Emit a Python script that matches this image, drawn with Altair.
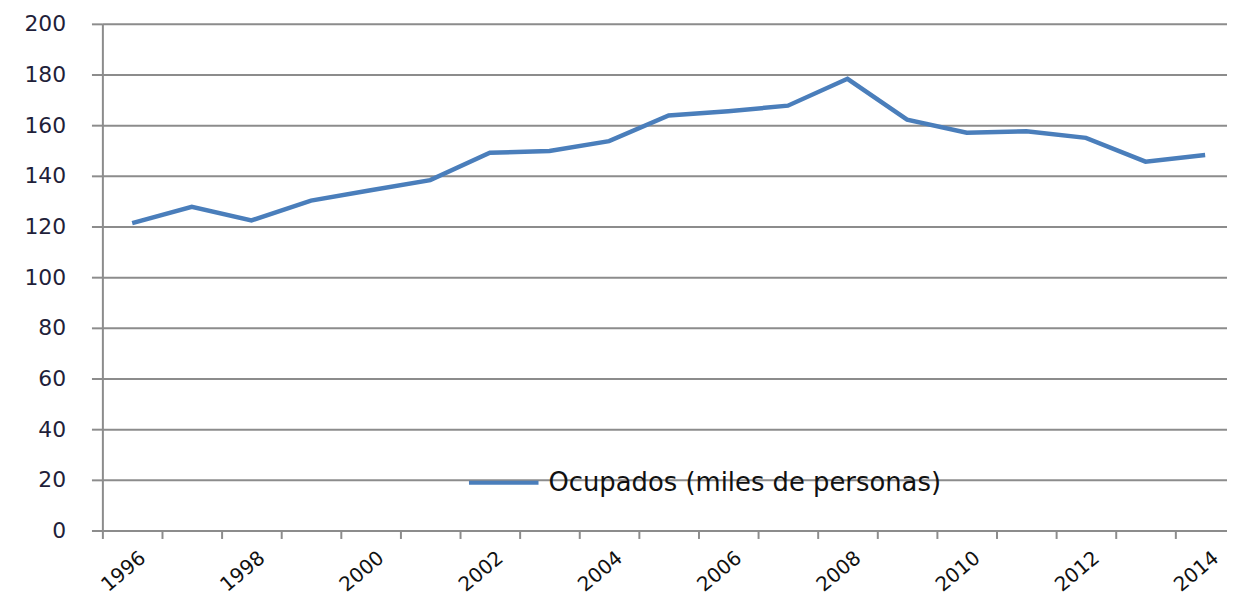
import altair as alt
import pandas as pd

years = ["1996", "1997", "1998", "1999", "2000", "2001", "2002", "2003", "2004", "2005",
         "2006", "2007", "2008", "2009", "2010", "2011", "2012", "2013", "2014"]
ocupados = [121.3, 127.8, 122.4, 130.2, 134.3, 138.3, 149.1, 149.8, 153.7, 163.8,
            165.5, 167.7, 178.3, 162.2, 157.0, 157.6, 155.0, 145.6, 148.2]
series_name = "Ocupados (miles de personas)"
y_ticks = [0, 20, 40, 60, 80, 100, 120, 140, 160, 180, 200]

df = pd.DataFrame({"year": years, "value": ocupados, "serie": [series_name] * len(years)})

grid_color = "#8C8C8C"
line_color = "#4A7EBB"

chart = alt.Chart(df).mark_line(strokeWidth=4.5).encode(
    x=alt.X(
        "year:O",
        title=None,
        scale=alt.Scale(type="point", range=[0, 1140], padding=0.5),
        axis=alt.Axis(
            tickOffset=-30,
            labelOffset=34,
            labelAngle=-40,
            labelExpr="toNumber(datum.value) % 2 == 0 ? datum.label : ''",
            labelFont="DejaVu Sans",
            labelFontSize=20,
            labelColor="#111111",
            labelPadding=9,
            tickSize=8,
            tickWidth=2,
            tickColor=grid_color,
            domainColor=grid_color,
            domainWidth=2,
            grid=False,
            labelOverlap=False,
        ),
    ),
    y=alt.Y(
        "value:Q",
        title=None,
        scale=alt.Scale(domain=[0, 200], nice=False, zero=True),
        axis=alt.Axis(
            values=y_ticks,
            labelFont="DejaVu Sans",
            labelFontSize=22,
            labelColor="#1F1F3A",
            labelPadding=26,
            tickSize=11,
            tickWidth=2,
            tickColor=grid_color,
            domainColor=grid_color,
            domainWidth=2,
            grid=True,
            gridColor=grid_color,
            gridWidth=2,
            gridOpacity=1,
        ),
    ),
    color=alt.Color(
        "serie:N",
        scale=alt.Scale(range=[line_color]),
        legend=alt.Legend(
            title=None,
            orient="none",
            legendX=367,
            legendY=425,
            symbolType="stroke",
            symbolSize=4900,
            symbolStrokeWidth=4,
            labelFont="DejaVu Sans",
            labelFontSize=26,
            labelColor="#111111",
            labelOffset=8,
            padding=0,
            labelLimit=700,
        ),
    ),
).properties(
    width=1132,
    height=510,
    autosize=alt.AutoSizeParams(type="none"),
    padding={"left": 95, "top": 14, "right": 0, "bottom": 69},
).configure_view(stroke=None).configure(background="white")

chart.save("out.html", embed_options={"renderer": "svg", "actions": False})
